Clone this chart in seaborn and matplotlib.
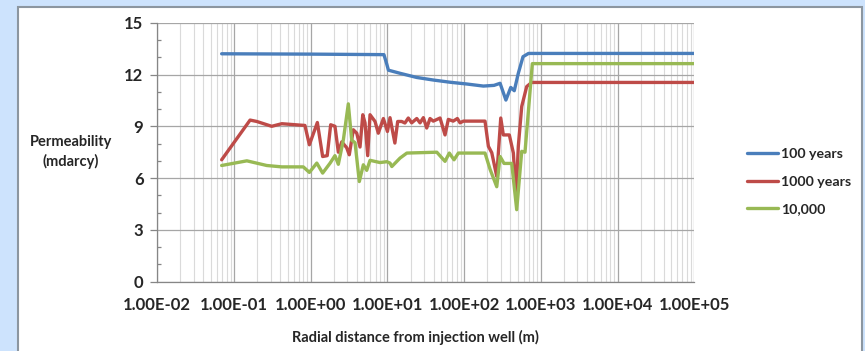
import numpy as np
import pandas as pd
import matplotlib
matplotlib.use("Agg")
import matplotlib.pyplot as plt
from matplotlib.patches import Rectangle
from matplotlib.ticker import LogLocator, MultipleLocator, FuncFormatter, NullFormatter
import seaborn as sns

# Radial distance (m) and permeability (mdarcy) for each simulated time
dist_100 = [0.069, 1.0, 9.0, 9.8, 10.3, 14.6, 24.0, 39.6, 66.0, 108, 178, 245, 294,
            350, 405, 450, 508, 585, 690, 1.0e5]
perm_100 = [13.2, 13.18, 13.15, 12.6, 12.25, 12.07, 11.83, 11.68, 11.55, 11.45, 11.33,
            11.37, 11.49, 10.52, 11.25, 11.06, 12.07, 13.03, 13.22, 13.22]

dist_1000 = [0.069, 0.162, 0.198, 0.31, 0.42, 0.72, 0.84, 0.96, 1.22, 1.43, 1.64, 1.82,
             2.07, 2.29, 2.54, 2.94, 3.18, 3.59, 3.98, 4.39, 4.77, 5.1, 5.53, 5.93, 6.89,
             7.6, 8.85, 10.0, 10.8, 12.5, 13.6, 15.3, 16.9, 18.7, 20.7, 24.1, 26.6, 29.4,
             32.5, 35.9, 39.6, 48.5, 56.3, 62.2, 72, 81.5, 88.4, 97.7, 187, 207, 229, 266,
             300, 324, 388, 438, 475, 508, 563, 653, 759, 1.0e5]
perm_1000 = [7.06, 9.36, 9.28, 9.0, 9.15, 9.07, 9.05, 7.93, 9.22, 7.25, 7.3, 9.09,
             9.0, 7.5, 8.1, 7.76, 7.35, 8.8, 8.6, 7.8, 9.67, 9.2, 7.3, 9.67, 9.28,
             8.6, 9.45, 8.7, 9.5, 8.03, 9.28, 9.28, 9.19, 9.48, 9.2, 9.45, 9.2, 9.5,
             8.9, 9.45, 9.3, 9.48, 8.5, 9.4, 9.3, 9.45, 9.2, 9.3, 9.3, 7.84, 7.47, 6.1,
             9.48, 8.5, 8.5, 7.45, 4.94, 7.84, 10.15, 11.3, 11.54, 11.54]

dist_10000 = [0.069, 0.147, 0.267, 0.42, 0.80, 0.96, 1.2, 1.43, 1.79, 2.07, 2.29, 2.66,
              3.09, 3.42, 3.78, 4.3, 4.85, 5.37, 5.93, 8.0, 9.8, 10.8, 11.4, 14.6, 17.9,
              44, 56.3, 64, 73.8, 84, 187, 218, 266, 294, 331, 417, 484, 563, 621, 774,
              1.0e5]
perm_10000 = [6.73, 7.0, 6.73, 6.65, 6.65, 6.33, 6.87, 6.29, 6.87, 7.3, 6.8, 8.2,
              10.3, 8.2, 8.05, 5.8, 6.77, 6.45, 7.03, 6.9, 6.95, 6.87, 6.67, 7.16, 7.45,
              7.5, 6.97, 7.45, 7.06, 7.45, 7.45, 6.5, 5.5, 7.25, 6.85, 6.85, 4.17, 7.55,
              7.5, 12.63, 12.63]

series_names = ["100 years", "1000 years", "10,000"]
series_colors = ["#4a7ebb", "#be4b48", "#98b954"]
x_ticks = [1e-2, 1e-1, 1e0, 1e1, 1e2, 1e3, 1e4, 1e5]
y_ticks = [0, 3, 6, 9, 12, 15]

frames = []
for name, d, p in zip(series_names,
                      [dist_100, dist_1000, dist_10000],
                      [perm_100, perm_1000, perm_10000]):
    frames.append(pd.DataFrame({"distance": d, "permeability": p, "series": name}))
df = pd.concat(frames, ignore_index=True)

sns.set_theme(style="white")
plt.rcParams["font.family"] = ["Lato", "DejaVu Sans"]
plt.rcParams["font.weight"] = "bold"

W, H = 865, 351
fig = plt.figure(figsize=(W / 100, H / 100), dpi=100, facecolor="#cde3fd")

# white chart panel with a grey frame, kept behind the axes
panel = Rectangle((18 / W, -0.01), (862 - 18) / W, 1.01 - 7 / H, transform=fig.transFigure,
                  facecolor="white", edgecolor="#8c96a0", linewidth=1.5, zorder=-5)
fig.patches.append(panel)

ax = fig.add_axes([157.3 / W, 1 - 281.7 / H, (694.3 - 157.3) / W, (281.7 - 22.7) / H])
ax.set_facecolor("none")
ax.set_zorder(2)

sns.lineplot(data=df, x="distance", y="permeability", hue="series",
             hue_order=series_names, palette=series_colors, estimator=None,
             sort=False, linewidth=2.4, solid_joinstyle="round",
             solid_capstyle="round", ax=ax)

ax.set_xscale("log")
ax.set_xlim(x_ticks[0], x_ticks[-1])
ax.set_ylim(y_ticks[0], y_ticks[-1])
ax.set_xticks(x_ticks)
ax.xaxis.set_minor_locator(LogLocator(base=10, subs=np.arange(2, 10)))
ax.xaxis.set_minor_formatter(NullFormatter())
ax.xaxis.set_major_formatter(FuncFormatter(lambda v, _: f"{v:.2E}"))
ax.set_yticks(y_ticks)
ax.yaxis.set_minor_locator(MultipleLocator(1))

ax.grid(which="major", axis="both", color="#a6a6a6", linewidth=0.9)
ax.grid(which="minor", axis="x", color="#dadada", linewidth=0.8)
ax.set_axisbelow(True)

for side in ["top", "right"]:
    ax.spines[side].set_visible(False)
for side in ["left", "bottom"]:
    ax.spines[side].set_color("#868686")
    ax.spines[side].set_linewidth(0.9)

ax.tick_params(axis="x", which="major", direction="out", length=5, width=0.9,
               color="#868686", pad=6, labelsize=12)
ax.tick_params(axis="x", which="minor", length=0)
ax.tick_params(axis="y", which="major", direction="out", length=5, width=0.9,
               color="#868686", pad=5, labelsize=12, left=True)
ax.tick_params(axis="y", which="minor", direction="in", length=3, width=0.9,
               color="#868686", left=True)
for lab in ax.get_xticklabels() + ax.get_yticklabels():
    lab.set_fontweight("bold")

ax.set_xlabel("")
ax.set_ylabel("")
fig.text(71 / W, 1 - 152 / H, "Permeability\n(mdarcy)", ha="center", va="center",
         fontsize=10.5, fontweight="bold", linespacing=1.4)
fig.text(415 / W, 1 - 337 / H, "Radial distance from injection well (m)",
         ha="center", va="center", fontsize=10.5, fontweight="bold")

handles, labels = ax.get_legend_handles_labels()
ax.get_legend().remove()
leg = fig.legend(handles, labels, loc="center left",
                 bbox_to_anchor=(746.7 / W, 1 - 181.7 / H), frameon=False,
                 fontsize=10.2, handlelength=2.2, handletextpad=0.2,
                 labelspacing=1.1, borderpad=0, borderaxespad=0)
for t in leg.get_texts():
    t.set_fontweight("bold")

fig.savefig("out.png", dpi=100, facecolor=fig.get_facecolor())
